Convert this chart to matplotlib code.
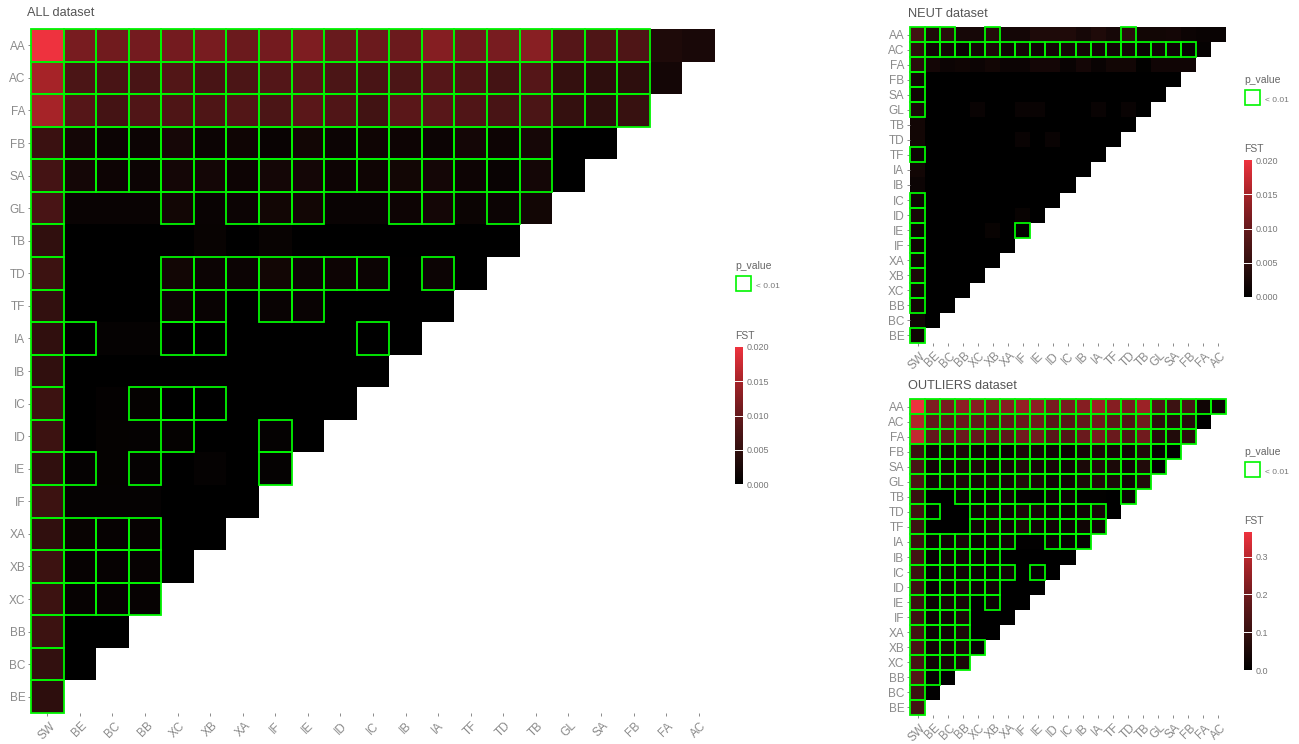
import matplotlib
matplotlib.use("Agg")
import numpy as np
import matplotlib.pyplot as plt
from matplotlib.colors import LinearSegmentedColormap, Normalize
from matplotlib.patches import Rectangle

plt.rcParams['font.family'] = ['Liberation Sans', 'DejaVu Sans']

W, H = 1299, 744
GREEN = "#00f500"
GREY = "#8a8a8a"

row_labels = ["AA", "AC", "FA", "FB", "SA", "GL", "TB", "TD", "TF", "IA", "IB",
              "IC", "ID", "IE", "IF", "XA", "XB", "XC", "BB", "BC", "BE"]
col_labels = ["SW", "BE", "BC", "BB", "XC", "XB", "XA", "IF", "IE", "ID", "IC",
              "IB", "IA", "TF", "TD", "TB", "GL", "SA", "FB", "FA", "AC"]

# ___ FST, one list per row (triangle, so rows shrink)
fst_all = [
    [.0200, .0115, .0110, .0112, .0112, .0115, .0105, .0112, .0120, .0103, .0105, .0105, .0125, .0108, .0115, .0128, .0085, .0078, .0078, .0030, .0025],
    [.0150, .0075, .0072, .0072, .0082, .0072, .0075, .0083, .0085, .0075, .0072, .0075, .0085, .0078, .0068, .0085, .0052, .0045, .0045, .0020],
    [.0150, .0085, .0068, .0080, .0078, .0078, .0082, .0075, .0090, .0080, .0065, .0090, .0088, .0080, .0072, .0075, .0052, .0045, .0055],
    [.0058, .0020, .0012, .0012, .0022, .0012, .0015, .0010, .0018, .0012, .0015, .0014, .0012, .0020, .0014, .0022, 0, 0],
    [.0068, .0020, .0014, .0012, .0020, .0020, .0013, .0020, .0020, .0013, .0015, .0018, .0020, .0013, .0010, .0020, 0],
    [.0072, .0010, .0010, .0010, .0018, .0010, .0012, .0018, .0018, .0009, .0010, .0014, .0020, .0011, .0012, .0018],
    [.0048, 0, 0, 0, 0, .0008, 0, .0008, 0, 0, 0, 0, 0, 0, 0],
    [.0060, 0, 0, 0, .0018, .0012, .0012, .0018, .0012, .0014, .0012, .0001, .0012, 0],
    [.0050, 0, 0, 0, .0012, .0010, 0, .0010, .0010, 0, 0, 0, 0],
    [.0048, 0, .0006, .0006, 0, 0, 0, 0, 0, 0, 0, 0],
    [.0048, 0, 0, 0, 0, 0, 0, 0, 0, 0, 0],
    [.0060, 0, .0004, .0005, 0, 0, 0, 0, 0, 0],
    [.0060, 0, .0005, .0006, .0005, 0, 0, .0006, 0],
    [.0048, .0006, .0005, .0006, 0, .0006, 0, .0006],
    [.0060, .0006, .0006, .0006, 0, 0, 0],
    [.0048, .0008, .0007, .0007, 0, 0],
    [.0060, .0007, .0007, .0007, 0],
    [.0060, .0007, .0007, .0007],
    [.0060, 0, 0],
    [.0050, 0],
    [.0045],
]
fst_neut = [
    [.0065, .0030, .0040, .0022, .0022, .0035, .0020, .0020, .0030, .0030, .0032, .0022, .0032, .0022, .0040, .0018, .0018, .0020, .0012, .0010, .0010],
    [.0045, .0015, .0018, .0008, .0018, .0028, .0015, .0018, .0015, .0018, .0020, .0018, .0018, .0015, .0018, .0008, .0015, .0012, .0005, .0006],
    [.0040, .0020, .0012, .0015, .0012, .0018, .0012, .0012, .0020, .0020, .0010, .0020, .0010, .0018, .0018, .0002, .0016, .0016, .0016],
    [.0018, 0, 0, 0, 0, 0, 0, 0, 0, 0, 0, 0, 0, 0, 0, 0, 0, 0],
    [.0015, 0, 0, 0, 0, 0, 0, 0, 0, 0, 0, 0, 0, 0, 0, 0, 0],
    [.0025, 0, 0, 0, .0010, 0, 0, .0010, .0010, 0, 0, 0, .0010, 0, .0010, 0],
    [.0018, 0, 0, 0, 0, 0, 0, 0, 0, 0, 0, 0, 0, 0, 0],
    [.0018, 0, 0, 0, 0, 0, 0, .0010, 0, .0010, 0, 0, 0, 0],
    [.0012, 0, 0, 0, 0, 0, 0, 0, 0, 0, 0, 0, 0],
    [.0018, 0, 0, 0, 0, 0, 0, 0, 0, 0, 0, 0],
    [.0012, 0, 0, 0, 0, 0, 0, 0, 0, 0, 0],
    [.0015, 0, 0, 0, 0, 0, 0, 0, 0, 0],
    [.0022, 0, 0, 0, 0, 0, 0, .0008, 0],
    [.0015, 0, 0, 0, 0, .0008, 0, .0002],
    [.0015, 0, 0, 0, 0, 0, 0],
    [.0018, 0, 0, 0, 0, 0],
    [.0028, 0, 0, 0, 0],
    [.0020, 0, 0, 0],
    [.0018, 0, 0],
    [.0016, 0],
    [.0015],
]
fst_outliers = [
    [.365, .22, .21, .24, .23, .22, .23, .25, .24, .21, .21, .23, .26, .23, .21, .26, .14, .11, .13, .03, .02],
    [.29, .18, .18, .19, .18, .17, .18, .19, .20, .16, .16, .18, .20, .17, .15, .20, .08, .07, .07, 0],
    [.31, .18, .17, .19, .18, .17, .17, .20, .20, .16, .15, .19, .21, .19, .14, .20, .07, .06, .08],
    [.11, .03, .04, .05, .03, .03, .02, .05, .04, .03, .02, .04, .05, .04, .03, .06, .01, 0],
    [.13, .03, .04, .05, .05, .04, .04, .06, .04, .04, .03, .05, .06, .05, .03, .06, .005],
    [.14, .03, .04, .05, .04, .05, .04, .06, .05, .03, .03, .05, .06, .05, .03, .06],
    [.10, 0, 0, .02, .02, .02, .03, .01, .005, .02, .02, .003, .003, 0, .02],
    [.12, .01, 0, 0, .03, .04, .03, .05, .04, .03, .02, .03, .04, 0],
    [.11, 0, 0, 0, .03, .04, .03, .05, .03, .03, .02, .03, .03],
    [.11, .02, .03, .04, .02, .03, .03, .005, .005, .02, .01, .01],
    [.12, .01, .03, .03, .02, .02, 0, 0, 0, 0, 0],
    [.11, .01, .03, .03, .02, .02, .03, 0, .01, 0],
    [.11, .01, .03, .04, .02, .03, 0, 0, 0],
    [.11, .02, .04, .04, 0, .02, 0, 0],
    [.11, .02, .03, .05, 0, 0, 0],
    [.12, .02, .03, .05, 0, 0],
    [.13, .03, .04, .05, .01],
    [.13, .03, .04, .05],
    [.15, .01, 0],
    [.11, .005],
    [.12],
]

# ___ columns with p_value < 0.01, per row
sig_all = [
    [*range(19)], [*range(19)], [*range(19)], [*range(16)], [*range(16)],
    [0, 4, 6, 7, 8, 11, 12, 14], [0], [0, 4, 5, 6, 7, 8, 9, 10, 12], [0, 4, 5, 7, 8],
    [0, 1, 4, 5, 10], [0], [0, 3, 4, 5], [0, 4, 7], [0, 1, 3, 7], [0],
    [0, 1, 2, 3], [0, 1, 2, 3], [0, 1, 2, 3], [0], [0], [0],
]
sig_neut = [
    [0, 1, 2, 5, 14], [*range(19)], [0], [0], [0], [0], [], [], [0], [], [],
    [0], [0], [0, 7], [0], [0], [0], [0], [0], [], [0],
]
sig_outliers = [
    [*range(21)], [*range(19)], [*range(19)], [*range(18)], [*range(17)], [*range(16)],
    [0, 3, 4, 5, 6, 9, 10, 14], [0, 1, *range(4, 13)], [0, *range(4, 13)],
    [*range(7), 9, 10, 11], [*range(6)], [*range(7), 8], [*range(6)], [0, 1, 2, 3, 5],
    [0, 1, 2, 3], [0, 1, 2, 3], [0, 1, 2, 3, 4], [0, 1, 2, 3], [0, 1], [0], [0],
]

bar_ticks_small = [0.0, 0.005, 0.010, 0.015, 0.020]
bar_labels_small = ["0.000", "0.005", "0.010", "0.015", "0.020"]
bar_ticks_out = [0.0, 0.1, 0.2, 0.3]
bar_labels_out = ["0.0", "0.1", "0.2", "0.3"]

fst_cmap = LinearSegmentedColormap.from_list(
    "fst", [(0, "#000000"), (.25, "#32100f"), (.5, "#64191c"), (.75, "#a52328"), (1, "#ee323e")])


def px_axes(fig, left, top, right, bottom):
    return fig.add_axes([left/W, 1-bottom/H, (right-left)/W, (bottom-top)/H])


def px_text(fig, x, y, s, **kw):
    fig.text(x/W, 1-y/H, s, va="center", **kw)


def triangle(fig, box, title, title_x, title_y, fst, sig, vmax):
    ax = px_axes(fig, *box)
    n = len(row_labels)
    grid = np.full((n, n), np.nan)
    for i, row in enumerate(fst):
        grid[i, :len(row)] = row
    ax.pcolormesh(np.arange(n+1)-.5, np.arange(n+1)-.5, np.ma.masked_invalid(grid),
                  cmap=fst_cmap, norm=Normalize(0, vmax), linewidth=0)
    for i, cols in enumerate(sig):
        for j in cols:
            ax.add_patch(Rectangle((j-.5, i-.5), 1, 1, fill=False, edgecolor=GREEN,
                                   linewidth=1.3, clip_on=False, zorder=3))
    ax.set_xlim(-.5, n-.5)
    ax.set_ylim(n-.5, -.5)
    ax.set_xticks(range(n))
    ax.set_xticklabels(col_labels, rotation=45, ha="center", va="top")
    ax.set_yticks(range(n))
    ax.set_yticklabels(row_labels)
    ax.tick_params(axis="both", length=2, width=.7, color=GREY, labelcolor=GREY,
                   labelsize=8.5, pad=2)
    ax.tick_params(axis="x", pad=3)
    for s in ax.spines.values():
        s.set_visible(False)
    px_text(fig, title_x, title_y, title, fontsize=9.2, color="#555555")


def legends(fig, x, y_p, y_bar_top, y_bar_bot, vmax, ticks, labels):
    px_text(fig, x, y_p, "p_value", fontsize=7.5, color="#666666")
    fig.add_artist(Rectangle(((x+1)/W, 1-(y_p+25)/H), 15/W, 15/H, transform=fig.transFigure,
                             fill=False, edgecolor=GREEN, linewidth=1.2))
    px_text(fig, x+21, y_p+20, "< 0.01", fontsize=6, color="#777777")
    px_text(fig, x, y_bar_top-11, "FST", fontsize=7.5, color="#666666")

    cax = px_axes(fig, x, y_bar_top, x+7.5, y_bar_bot)
    sm = plt.cm.ScalarMappable(norm=Normalize(0, vmax), cmap=fst_cmap)
    cb = fig.colorbar(sm, cax=cax)
    cb.outline.set_visible(False)
    cb.set_ticks(ticks)
    cb.set_ticklabels(labels)
    cb.ax.tick_params(length=0, labelsize=6.5, labelcolor="#777777", pad=3)
    for t in ticks[1:]:
        if t < vmax:
            cb.ax.axhline(t, color="white", linewidth=.7)


fig = plt.figure(figsize=(W/100, H/100), dpi=100)

triangle(fig, (31, 29, 715, 713), "ALL dataset", 27, 13, fst_all, sig_all, 0.020)
triangle(fig, (910, 27, 1226, 343), "NEUT dataset", 908, 14, fst_neut, sig_neut, 0.020)
triangle(fig, (910, 399, 1226, 715), "OUTLIERS dataset", 908, 386, fst_outliers, sig_outliers, 0.365)

legends(fig, 735, 266, 347, 484, 0.020, bar_ticks_small, bar_labels_small)
legends(fig, 1244, 80, 160, 297, 0.020, bar_ticks_small, bar_labels_small)
legends(fig, 1244, 452, 532, 670, 0.365, bar_ticks_out, bar_labels_out)

fig.savefig("out.png", dpi=100)
